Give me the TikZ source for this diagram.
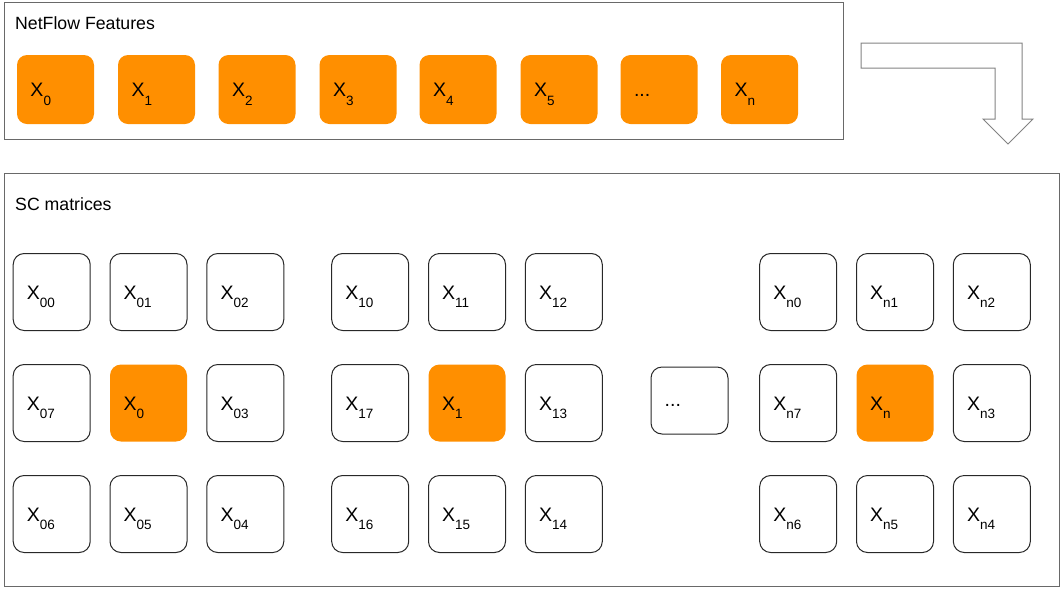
\documentclass[tikz,border=0pt]{standalone}
\usepackage{fontspec}
\setmainfont{Liberation Sans}
\definecolor{featorange}{RGB}{255,143,0}
\definecolor{framegray}{RGB}{105,105,105}
\definecolor{arrowgray}{RGB}{130,130,130}
\definecolor{boxline}{RGB}{40,40,40}
\newcommand\lowsub[1]{\raisebox{-8.5pt}{\fontsize{13.5}{13.5}\selectfont #1}}
\newcommand\threedots{...}
\begin{document}
\begin{tikzpicture}[x=1pt,y=-1pt,
  frame/.style={draw=framegray, line width=1pt},
  featbox/.style={fill=featorange, draw=none, rounded corners=10pt, minimum width=77pt, minimum height=69pt, inner sep=0pt},
  cellbox/.style={draw=boxline, fill=white, line width=1pt, rounded corners=11pt, minimum width=77pt, minimum height=77pt, inner sep=0pt},
  hotbox/.style={cellbox, fill=featorange, draw=none},
  lbl/.style={inner sep=0pt, anchor=base west, font=\fontsize{19.5}{19.5}\selectfont},
  title/.style={inner sep=0pt, anchor=base west, font=\fontsize{17.7}{17.7}\selectfont}]
\useasboundingbox (0,0) rectangle (1061,590);
% frames
\draw[frame] (4,2) rectangle (843,139);
\draw[frame] (4,173) rectangle (1059,586);
\node[title] (ttop) at (15,29.3) {NetFlow Features};
\node[title] (tbot) at (15,210) {SC matrices};
% feature row
\foreach \cx/\t [count=\i] in {55.5/X\lowsub{0}, 156.5/X\lowsub{1}, 257/X\lowsub{2}, 358/X\lowsub{3}, 458/X\lowsub{4}, 559/X\lowsub{5}, 659/\threedots, 759.5/X\lowsub{n}}{
  \node[featbox] (f\i) at (\cx,89.5) {};
  \node[lbl] (ft\i) at ([shift={(13.5,7)}]f\i.west) {\t};
}
% block arrow
\draw[draw=arrowgray, line width=1pt, line join=miter]
  (861,43) -- (1022,43) -- (1022,119) -- (1033,119) -- (1008,144) -- (983,119) -- (995,119) -- (995,68) -- (861,68) -- cycle;
% matrices
\foreach \gx/\g in {148.5/0, 467/1, 895/n}{
  \foreach \dx/\dy/\s in {-1/-1/0, 0/-1/1, 1/-1/2, 1/0/3, 1/1/4, 0/1/5, -1/1/6, -1/0/7}{
    \node[cellbox] (m\g\s) at (\gx+\dx*96.8, 403+\dy*111) {};
    \node[lbl] (mt\g\s) at ([shift={(14,7)}]m\g\s.west) {X\lowsub{\g\s}};
  }
  \node[hotbox] (m\g c) at (\gx, 403) {};
  \node[lbl] (mt\g c) at ([shift={(14,7)}]m\g c.west) {X\lowsub{\g}};
}
% dots box
\node[cellbox, minimum height=67pt] (dots) at (689.5,400.5) {};
\node[lbl] (dotst) at ([shift={(14,5.5)}]dots.west) {\threedots};
\end{tikzpicture}
\end{document}
